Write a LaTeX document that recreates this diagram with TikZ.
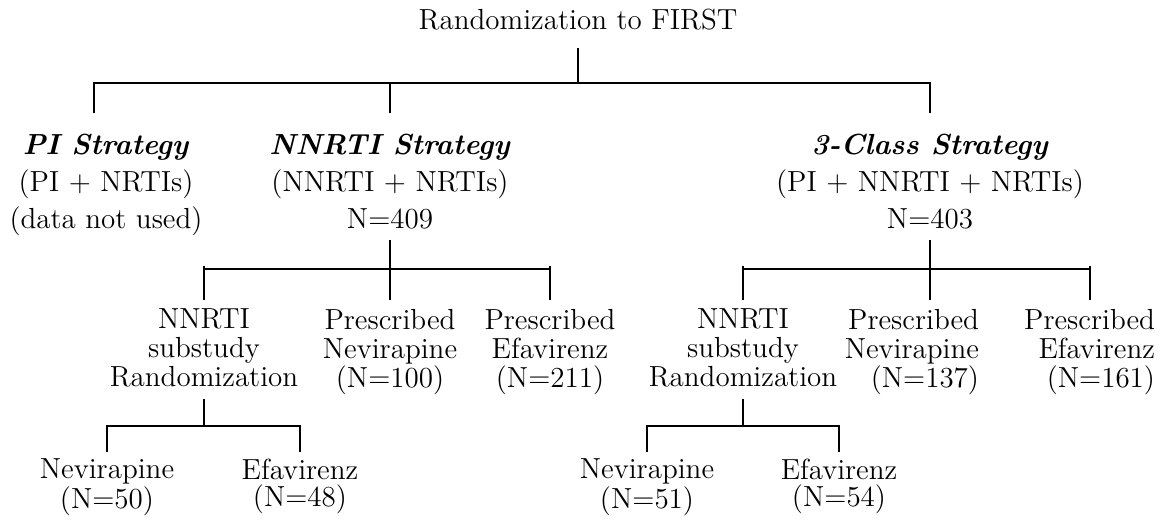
\documentclass[tikz,border=0pt]{standalone}
\usepackage{tikz}
\usetikzlibrary{positioning}

\begin{document}
\begin{tikzpicture}[x=0.4132pt,y=-0.4132pt,thick,
	box node/.style={align=center,anchor=north,inner sep=0pt,
		font=\fontsize{12}{12}\selectfont},
	arm node/.style={box node,font=\fontsize{12}{15.3}\selectfont},
	leaf node/.style={box node,font=\fontsize{12}{11.2}\selectfont}]
	
	\useasboundingbox (0,0) rectangle (1170,521);
	
	% text of the tree
	\node[box node] (root) at (578,8) {Randomization to FIRST};
	
	\node[arm node] (pi) at (106,133) {\textbf{\textit{PI Strategy}}\\(PI + NRTIs)\\(data not used)};
	\node[arm node] (nn) at (390,133) {\textbf{\textit{NNRTI Strategy}}\\(NNRTI + NRTIs)\\N=409};
	\node[arm node] (tc) at (930,133) {\textbf{\textit{3-Class Strategy}}\\(PI + NNRTI + NRTIs)\\N=403};
	
	\node[box node] (nnsub) at (204,308) {NNRTI\\substudy\\Randomization};
	\node[box node] (nnnev) at (390,308) {Prescribed\\Nevirapine\\(N=100)};
	\node[box node] (nnefv) at (550,308) {Prescribed\\Efavirenz\\(N=211)};
	
	\node[box node] (tcsub) at (743,308) {NNRTI\\substudy\\Randomization};
	\node[box node,align=right,anchor=north east] (tcnev) at (980,308) {Prescribed\\Nevirapine\\(N=137)};
	\node[box node,align=right,anchor=north east] (tcefv) at (1156,308) {Prescribed\\Efavirenz\\(N=161)};
	
	\node[leaf node] (nnsubnev) at (107,458) {Nevirapine\\(N=50)};
	\node[leaf node] (nnsubefv) at (300,458) {Efavirenz\\(N=48)};
	\node[leaf node] (tcsubnev) at (647,458) {Nevirapine\\(N=51)};
	\node[leaf node] (tcsubefv) at (839,458) {Efavirenz\\(N=54)};
	
	% forks of the tree
	\coordinate (j0) at (578,83);
	\coordinate (j1) at (390,269);
	\coordinate (j2) at (930,269);
	\coordinate (j3) at (204,426);
	\coordinate (j4) at (743,426);
	
	% first split
	\draw[shorten <=7pt] (root) -- (j0);
	\draw[shorten >=8.3pt] (j0) -| ([xshift=-5pt]pi.north);
	\draw[shorten >=8.3pt] (j0) -| (nn);
	\draw[shorten >=8.3pt] (j0) -| (tc);
	
	% NNRTI strategy
	\draw[shorten <=4.1pt] (nn) -- (j1);
	\draw (nnsub.north |- j1) -- (nnefv.north |- j1);
	\foreach \c in {nnsub,nnnev,nnefv}
		\draw[shorten >=3.3pt] (\c.north |- j1) ++(0,-3) -- (\c);
	
	% 3-class strategy
	\draw[shorten <=4.1pt] (tc) -- (j2);
	\draw (tcsub.north |- j2) -- (tcefv.north |- j2);
	\draw[shorten >=3.3pt] (tcsub.north |- j2) ++(0,-3) -- (tcsub);
	\draw[shorten >=3.3pt] (j2) ++(0,-3) -- (tcnev.north -| j2);
	\draw[shorten >=3.3pt] (tcefv.north |- j2) ++(0,-3) -- (tcefv);
	
	% substudies
	\draw[shorten <=4.5pt] (nnsub) -- (j3);
	\draw[shorten >=2.5pt] (j3) -| (nnsubnev);
	\draw[shorten >=2.5pt] (j3) -| (nnsubefv);
	\draw[shorten <=4.5pt] (tcsub) -- (j4);
	\draw[shorten >=2.5pt] (j4) -| (tcsubnev);
	\draw[shorten >=2.5pt] (j4) -| (tcsubefv);
	
\end{tikzpicture}
\end{document}
